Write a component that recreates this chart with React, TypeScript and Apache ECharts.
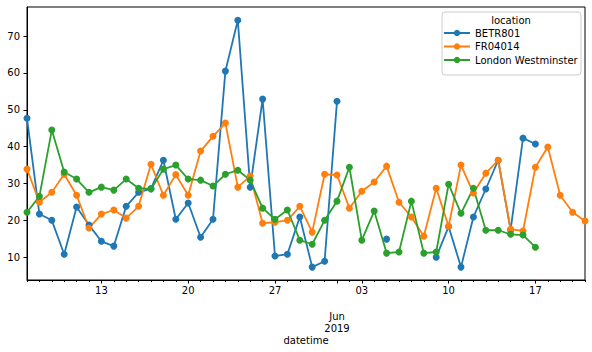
import React, { useEffect, useRef } from "react";
import * as echarts from "echarts";

const dates = [
  "2019-05-07", "2019-05-08", "2019-05-09", "2019-05-10", "2019-05-11", "2019-05-12",
  "2019-05-13", "2019-05-14", "2019-05-15", "2019-05-16", "2019-05-17", "2019-05-18",
  "2019-05-19", "2019-05-20", "2019-05-21", "2019-05-22", "2019-05-23", "2019-05-24",
  "2019-05-25", "2019-05-26", "2019-05-27", "2019-05-28", "2019-05-29", "2019-05-30",
  "2019-05-31", "2019-06-01", "2019-06-02", "2019-06-03", "2019-06-04", "2019-06-05",
  "2019-06-06", "2019-06-07", "2019-06-08", "2019-06-09", "2019-06-10", "2019-06-11",
  "2019-06-12", "2019-06-13", "2019-06-14", "2019-06-15", "2019-06-16", "2019-06-17",
  "2019-06-18", "2019-06-19", "2019-06-20", "2019-06-21",
];

const betr801 = [
  47.7, 21.7, 20.0, 10.8, 23.6, 18.7, 14.3, 13.0, 23.8, 27.6, 28.6, 36.3,
  20.3, 24.7, 15.4, 20.3, 60.5, 74.3, 29.0, 52.9, 10.3, 10.8, 20.9, 7.3,
  8.9, 52.3, null, null, null, 14.9, null, null, null, 10.0, 18.3, 7.3,
  20.9, 28.5, 36.3, 17.4, 42.3, 40.7, null, null, null, null,
];

const fr04014 = [
  33.9, 24.9, 27.6, 32.5, 26.8, 17.9, 21.7, 22.8, 20.6, 23.8, 35.2, 26.8,
  32.4, 26.8, 38.8, 42.8, 46.4, 29.0, 32.0, 19.2, 19.5, 20.0, 23.8, 16.8,
  32.5, 32.3, 23.3, 27.9, 30.4, 34.7, 24.9, 20.9, 15.7, 28.7, 18.4, 35.0,
  27.4, 32.8, 36.3, 17.6, 17.1, 34.4, 39.9, 26.8, 22.2, 19.8,
];

const londonWestminster = [
  22.2, 26.5, 44.5, 33.1, 31.2, 27.6, 29.0, 28.2, 31.2, 28.7, 28.5, 33.9,
  35.0, 31.2, 30.9, 29.3, 32.5, 33.6, 30.9, 23.3, 20.3, 22.8, 14.6, 13.5,
  20.0, 25.2, 34.4, 14.6, 22.5, 11.1, 11.4, 25.2, 11.1, 11.4, 29.8, 21.9,
  28.7, 17.3, 17.3, 16.2, 16.0, 12.7, null, null, null, null,
];

const seriesNames = ["BETR801", "FR04014", "London Westminster"];
const colors = ["#1f77b4", "#ff7f0e", "#2ca02c"];
const yTicks = [10, 20, 30, 40, 50, 60, 70];
const mondayLabels = ["2019-05-13", "2019-05-20", "2019-05-27", "2019-06-03", "2019-06-10", "2019-06-17"];
const monthLabelDate = "2019-06-01";
const monthLabel = "Jun\n2019";

export default function App() {
  const ref = useRef<HTMLDivElement>(null);

  useEffect(() => {
    const chart = echarts.init(ref.current!, null, { renderer: "svg" });
    const font = "DejaVu Sans";
    const isMonday = (i: number) => mondayLabels.includes(dates[i]);
    const isMajor = (i: number) => isMonday(i) || dates[i] === monthLabelDate;
    const allData = [betr801, fr04014, londonWestminster];

    chart.setOption({
      animation: false,
      backgroundColor: "#ffffff",
      textStyle: { fontFamily: font },
      grid: {
        left: 27,
        right: 7,
        top: 7,
        bottom: 72,
        show: true,
        borderColor: "#000",
        borderWidth: 1,
        backgroundColor: "transparent",
      },
      xAxis: [
        {
          type: "category",
          data: dates,
          boundaryGap: false,
          axisLine: { show: true, lineStyle: { color: "#000", width: 1 } },
          axisTick: { show: true, interval: 0, length: 2, lineStyle: { color: "#000" } },
          axisLabel: { show: false },
          splitLine: { show: false },
          name: "datetime",
          nameLocation: "middle",
          nameGap: 55,
          nameTextStyle: { fontSize: 10, color: "#000", fontFamily: font },
        },
        {
          type: "category",
          data: dates,
          boundaryGap: false,
          position: "bottom",
          axisLine: { show: false },
          axisTick: {
            show: true,
            interval: (i: number) => isMajor(i),
            length: 3.5,
            lineStyle: { color: "#000" },
          },
          axisLabel: {
            show: true,
            interval: (i: number) => isMonday(i),
            formatter: (v: string) => v.slice(8, 10),
            margin: 5,
            fontSize: 10,
            color: "#000",
            fontFamily: font,
          },
          splitLine: { show: false },
        },
        {
          type: "category",
          data: dates,
          boundaryGap: false,
          position: "bottom",
          axisLine: { show: false },
          axisTick: { show: false },
          axisLabel: {
            show: true,
            interval: (i: number) => dates[i] === monthLabelDate,
            formatter: () => monthLabel,
            margin: 30,
            lineHeight: 12,
            fontSize: 10,
            color: "#000",
            fontFamily: font,
          },
          splitLine: { show: false },
        },
      ],
      yAxis: {
        type: "value",
        min: 3.8,
        max: 77.9,
        axisLine: { show: true, lineStyle: { color: "#000", width: 1 } },
        axisTick: { show: true, length: 3.5, customValues: yTicks, lineStyle: { color: "#000" } },
        axisLabel: {
          customValues: yTicks,
          margin: 7,
          fontSize: 10,
          color: "#000",
          fontFamily: font,
        },
        splitLine: { show: false },
      },
      legend: {
        orient: "vertical",
        left: 438,
        top: 23,
        itemWidth: 26,
        itemHeight: 8,
        itemGap: 3.5,
        selectedMode: false,
        textStyle: { fontSize: 10, color: "#000", fontFamily: font },
        data: seriesNames,
        z: 5,
      },
      graphic: [
        {
          type: "rect",
          shape: { x: 442, y: 12, width: 139, height: 63, r: 3 },
          style: { fill: "rgba(255,255,255,0.85)", stroke: "#cccccc", lineWidth: 1 },
          z: 3,
        },
        {
          type: "text",
          x: 511,
          y: 20,
          style: {
            text: "location",
            align: "center",
            verticalAlign: "middle",
            fontSize: 10,
            fontFamily: font,
            fill: "#000",
          },
          z: 5,
        },
      ],
      series: seriesNames.map((name, k) => ({
        name,
        type: "line",
        data: allData[k],
        xAxisIndex: 0,
        symbol: "circle",
        symbolSize: 7,
        showSymbol: true,
        showAllSymbol: true,
        connectNulls: false,
        color: colors[k],
        lineStyle: { color: colors[k], width: 1.8 },
        itemStyle: { color: colors[k] },
        emphasis: { disabled: true },
      })),
    });

    return () => chart.dispose();
  }, []);

  return (
    <div
      ref={ref}
      style={{ position: "fixed", left: 0, top: 0, width: 592, height: 352, background: "#fff" }}
    />
  );
}
